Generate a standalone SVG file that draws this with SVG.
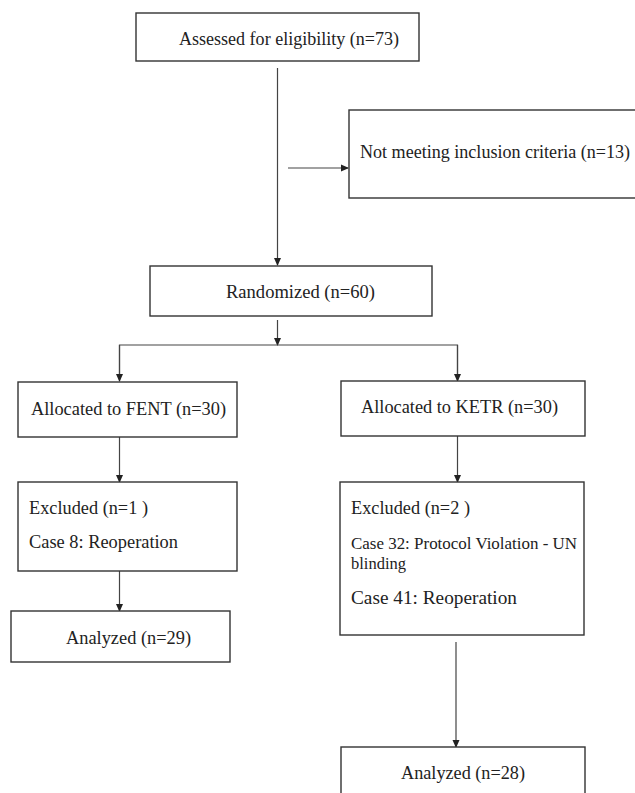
<svg xmlns="http://www.w3.org/2000/svg" width="635" height="793" viewBox="0 0 635 793">
<defs>
<marker id="ah" markerWidth="8" markerHeight="8" refX="7" refY="4" orient="auto" markerUnits="userSpaceOnUse">
<path d="M0,0.5 L8,4 L0,7.5 Z" fill="#222"/>
</marker>
<style>
.box{fill:#fff;stroke:#333;stroke-width:1.4}
.ln{fill:none;stroke:#444;stroke-width:1.2}
.t{font-family:"Liberation Serif","Times New Roman",serif;font-size:18px;fill:#222}
.s{font-size:17px}
</style>
</defs>
<rect width="635" height="793" fill="#fff"/>
<g id="connectors">
<line class="ln" x1="277.5" y1="68" x2="277.5" y2="265" marker-end="url(#ah)"/>
<line class="ln" x1="288" y1="168" x2="348" y2="168" marker-end="url(#ah)"/>
<line class="ln" x1="277.5" y1="320" x2="277.5" y2="345" marker-end="url(#ah)"/>
<polyline class="ln" points="119.5,380 119.5,345 457.5,345 457.5,380"/>
<line class="ln" x1="119.5" y1="345" x2="119.5" y2="381" marker-end="url(#ah)"/>
<line class="ln" x1="457.5" y1="345" x2="457.5" y2="381" marker-end="url(#ah)"/>
<line class="ln" x1="119.5" y1="437" x2="119.5" y2="482" marker-end="url(#ah)"/>
<line class="ln" x1="457.5" y1="436" x2="457.5" y2="482" marker-end="url(#ah)"/>
<line class="ln" x1="119.5" y1="571" x2="119.5" y2="611" marker-end="url(#ah)"/>
<line class="ln" x1="456" y1="642" x2="456" y2="747" marker-end="url(#ah)"/>
</g>
<g id="n-assessed">
<rect class="box" x="136" y="13" width="283" height="48"/>
<text class="t" x="179" y="45" textLength="220" lengthAdjust="spacingAndGlyphs">Assessed for eligibility (n=73)</text>
</g>
<g id="n-notmeeting">
<rect class="box" x="349" y="110" width="300" height="88"/>
<text class="t" x="360" y="158" textLength="270" lengthAdjust="spacingAndGlyphs">Not meeting inclusion criteria (n=13)</text>
</g>
<g id="n-randomized">
<rect class="box" x="150" y="266" width="282" height="50"/>
<text class="t" x="226" y="298" textLength="149" lengthAdjust="spacingAndGlyphs">Randomized (n=60)</text>
</g>
<g id="n-fent">
<rect class="box" x="18" y="382" width="219" height="55"/>
<text class="t" x="31" y="415" textLength="195" lengthAdjust="spacingAndGlyphs">Allocated to FENT (n=30)</text>
</g>
<g id="n-ketr">
<rect class="box" x="341" y="381" width="244" height="55"/>
<text class="t" x="361" y="413" textLength="197" lengthAdjust="spacingAndGlyphs">Allocated to KETR (n=30)</text>
</g>
<g id="n-excl-fent">
<rect class="box" x="18" y="482" width="219" height="89"/>
<text class="t" x="29" y="514" textLength="119" lengthAdjust="spacingAndGlyphs">Excluded (n=1 )</text>
<text class="t" x="29" y="548" textLength="149" lengthAdjust="spacingAndGlyphs">Case 8: Reoperation</text>
</g>
<g id="n-excl-ketr">
<rect class="box" x="340" y="482" width="244" height="153"/>
<text class="t" x="351" y="514" textLength="119" lengthAdjust="spacingAndGlyphs">Excluded (n=2 )</text>
<text class="t s" x="351" y="549" textLength="226" lengthAdjust="spacingAndGlyphs">Case 32: Protocol Violation - UN</text>
<text class="t s" x="351" y="569" textLength="55" lengthAdjust="spacingAndGlyphs">blinding</text>
<text class="t" x="351" y="604" textLength="166" lengthAdjust="spacingAndGlyphs">Case 41: Reoperation</text>
</g>
<g id="n-analyzed-fent">
<rect class="box" x="11" y="611" width="219" height="51"/>
<text class="t" x="66" y="644" textLength="125" lengthAdjust="spacingAndGlyphs">Analyzed (n=29)</text>
</g>
<g id="n-analyzed-ketr">
<rect class="box" x="341" y="747" width="244" height="60"/>
<text class="t" x="401" y="779" textLength="124" lengthAdjust="spacingAndGlyphs">Analyzed (n=28)</text>
</g>
</svg>
